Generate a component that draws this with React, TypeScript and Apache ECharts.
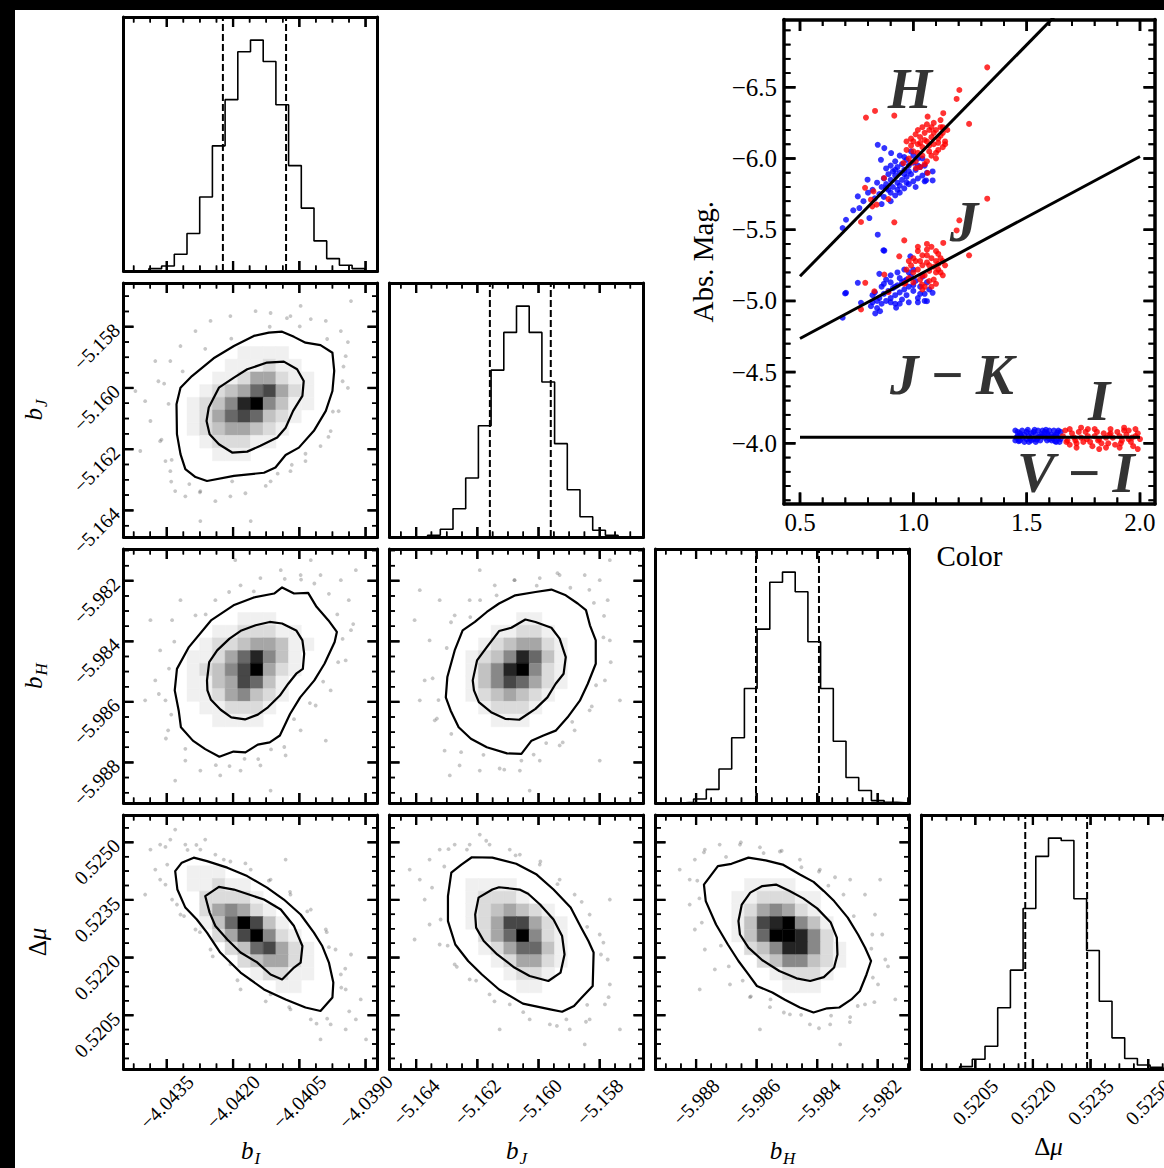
import React, { useEffect, useRef } from "react";
import * as echarts from "echarts";

// ================= DATA =================
// parameter axis ranges (data units)
const bIRange = [-4.04448, -4.03873];
const bJRange = [-5.16487, -5.15657];
const bHRange = [-5.98934, -5.98095];
const dmuRange = [0.5191, 0.52571];

// major tick values
const bITicks = [-4.0435, -4.042, -4.0405, -4.039];
const bJTicks = [-5.164, -5.162, -5.16, -5.158];
const bHTicks = [-5.988, -5.986, -5.984, -5.982];
const dmuTicks = [0.5205, 0.522, 0.5235, 0.525];

// 1D histogram counts (20 bins over each axis range)
const histBI = [0, 0, 7, 15, 50, 112, 221, 374, 512, 655, 690, 626, 497, 315, 188, 90, 37, 17, 7, 0];
const histBJ = [0, 0, 0, 5, 23, 84, 175, 330, 495, 607, 685, 607, 460, 277, 140, 60, 20, 5, 0, 0];
const histBH = [0, 0, 2, 12, 40, 100, 192, 337, 512, 650, 680, 622, 475, 337, 182, 75, 37, 7, 2, 0];
const histDmu = [0, 0, 0, 7, 29, 67, 181, 292, 474, 628, 682, 675, 503, 350, 200, 92, 31, 12, 5, 0];

// 16% / 84% quantiles
const qBI = [-4.04223, -4.0408];
const qBJ = [-5.16159, -5.1596];
const qBH = [-5.98602, -5.98394];
const qDmu = [0.5218, 0.52341];

// 2D density cells (20x20, row 0 = top), level 0 (white) .. 9 (black)
const cellsA = [
  "00000000000000000000", "00000000000000000000", "00000000000000000000", "00000000000000000000",
  "00000000000000000000", "00000000011110000000", "00000000111211000000", "00000001124421100000",
  "00000012346742100000", "00000123589531100000", "00000124676321000000", "00000123443210000000",
  "00000012221100000000", "00000001110000000000", "00000000000000000000", "00000000000000000000",
  "00000000000000000000", "00000000000000000000", "00000000000000000000", "00000000000000000000",
];
const cellsB = [
  "00000000000000000000", "00000000000000000000", "00000000000000000000", "00000000000000000000",
  "00000000000000000000", "00000000011100000000", "00000001122211000000", "00000012234431100000",
  "00000112468531000000", "00000123579421000000", "00000113476310000000", "00000112453210000000",
  "00000011222100000000", "00000001111000000000", "00000000000000000000", "00000000000000000000",
  "00000000000000000000", "00000000000000000000", "00000000000000000000", "00000000000000000000",
];
const cellsC = [
  "00000000000000000000", "00000000000000000000", "00000000000000000000", "00000000000000000000",
  "00000000000000000000", "00000000001100000000", "00000000112210000000", "00000001234421000000",
  "00000012358631000000", "00000013589521000000", "00000013576421000000", "00000012343210000000",
  "00000001222100000000", "00000000111000000000", "00000000000000000000", "00000000000000000000",
  "00000000000000000000", "00000000000000000000", "00000000000000000000", "00000000000000000000",
];
const cellsD = [
  "00000000000000000000", "00000000000000000000", "00000000000000000000", "00000000000000000000",
  "00000111000000000000", "00000112110000000000", "00000022221000000000", "00000024542100000000",
  "00000013697310000000", "00000002479521000000", "00000000236742100000", "00000000023442100000",
  "00000000001221100000", "00000000000011000000", "00000000000000000000", "00000000000000000000",
  "00000000000000000000", "00000000000000000000", "00000000000000000000", "00000000000000000000",
];
const cellsE = [
  "00000000000000000000", "00000000000000000000", "00000000000000000000", "00000000000000000000",
  "00000000000000000000", "00000011110000000000", "00000012221000000000", "00000012343210000000",
  "00000012477421000000", "00000002469521000000", "00000001246631000000", "00000000124421000000",
  "00000000012210000000", "00000000001100000000", "00000000000000000000", "00000000000000000000",
  "00000000000000000000", "00000000000000000000", "00000000000000000000", "00000000000000000000",
];
const cellsF = [
  "00000000000000000000", "00000000000000000000", "00000000000000000000", "00000000000000000000",
  "00000000000000000000", "00000001111000000000", "00000011222110000000", "00000012454210000000",
  "00000013789531000000", "00000013699852000000", "00000002358852100000", "00000000235532100000",
  "00000000012221000000", "00000000001110000000", "00000000000000000000", "00000000000000000000",
  "00000000000000000000", "00000000000000000000", "00000000000000000000", "00000000000000000000",
];

// contours (outer = ~2 sigma, inner = ~1 sigma)
const outerA = [[-4.04328,-5.16053],[-4.04319,-5.15999],[-4.04293,-5.15961],[-4.04244,-5.15903],[-4.04198,-5.15863],[-4.04153,-5.1583],[-4.04119,-5.15819],[-4.04089,-5.15816],[-4.04062,-5.15833],[-4.04036,-5.15852],[-4.04002,-5.1586],[-4.03975,-5.15885],[-4.03971,-5.15944],[-4.03975,-5.1601],[-4.0399,-5.16075],[-4.04017,-5.1614],[-4.04051,-5.16195],[-4.04081,-5.16219],[-4.04104,-5.1626],[-4.0413,-5.16277],[-4.04198,-5.16287],[-4.04259,-5.16304],[-4.04285,-5.16291],[-4.04308,-5.16265],[-4.04319,-5.16216],[-4.04327,-5.16151]];
const innerA = [[-4.0426,-5.16108],[-4.04255,-5.16064],[-4.04232,-5.15999],[-4.04198,-5.15966],[-4.04168,-5.15939],[-4.04123,-5.15917],[-4.04085,-5.15914],[-4.04055,-5.15939],[-4.0404,-5.15977],[-4.04043,-5.16026],[-4.04064,-5.16075],[-4.04081,-5.1613],[-4.041,-5.16162],[-4.04138,-5.16189],[-4.04168,-5.16208],[-4.04202,-5.16211],[-4.04232,-5.16184],[-4.04253,-5.16151]];
const outerB = [[-4.04327,-5.98491],[-4.043,-5.98419],[-4.0425,-5.98331],[-4.04199,-5.98281],[-4.04153,-5.98255],[-4.04107,-5.98242],[-4.04089,-5.98222],[-4.04062,-5.98242],[-4.0403,-5.9824],[-4.04011,-5.98286],[-4.03984,-5.98331],[-4.03965,-5.98369],[-4.0397,-5.98402],[-4.03993,-5.98474],[-4.04016,-5.98529],[-4.04048,-5.98585],[-4.04071,-5.9864],[-4.04094,-5.98711],[-4.04117,-5.98734],[-4.04144,-5.98741],[-4.04172,-5.98767],[-4.04199,-5.98764],[-4.04231,-5.98781],[-4.04263,-5.98756],[-4.04291,-5.98728],[-4.04318,-5.98684],[-4.04323,-5.98629],[-4.04332,-5.98562]];
const innerB = [[-4.04259,-5.98529],[-4.04254,-5.98469],[-4.04236,-5.9843],[-4.04208,-5.98391],[-4.04181,-5.98364],[-4.04149,-5.98347],[-4.04117,-5.98336],[-4.04089,-5.98341],[-4.04057,-5.98364],[-4.04043,-5.98397],[-4.04039,-5.98441],[-4.04042,-5.98491],[-4.04057,-5.98507],[-4.04075,-5.9854],[-4.04094,-5.98579],[-4.04121,-5.98618],[-4.04144,-5.98642],[-4.04173,-5.98658],[-4.04204,-5.98651],[-4.04228,-5.98626],[-4.0425,-5.98593],[-4.04258,-5.98562]];
const outerC = [[-5.16303,-5.98585],[-5.16298,-5.98518],[-5.16274,-5.9843],[-5.16248,-5.98364],[-5.16208,-5.98336],[-5.16169,-5.98303],[-5.16129,-5.98275],[-5.16076,-5.98248],[-5.1601,-5.98237],[-5.15958,-5.98229],[-5.15911,-5.98248],[-5.15872,-5.98275],[-5.15845,-5.98297],[-5.15832,-5.98347],[-5.15813,-5.98397],[-5.15813,-5.98474],[-5.15839,-5.9854],[-5.15865,-5.98596],[-5.15905,-5.98651],[-5.15944,-5.98695],[-5.15984,-5.98711],[-5.16023,-5.98728],[-5.16056,-5.98772],[-5.16103,-5.9877],[-5.16169,-5.9875],[-5.16221,-5.98722],[-5.16261,-5.98684],[-5.16287,-5.98629]];
const innerC = [[-5.16215,-5.98529],[-5.16201,-5.98463],[-5.16169,-5.98419],[-5.16129,-5.98366],[-5.16089,-5.98355],[-5.16043,-5.98328],[-5.1601,-5.98336],[-5.15958,-5.98355],[-5.15931,-5.98391],[-5.15911,-5.98452],[-5.15918,-5.98507],[-5.15944,-5.9854],[-5.15971,-5.98585],[-5.1601,-5.98623],[-5.16063,-5.98659],[-5.16109,-5.98656],[-5.16155,-5.98634],[-5.16195,-5.98601],[-5.16211,-5.98562]];
const outerD = [[-4.04331,0.52425],[-4.04316,0.52447],[-4.04289,0.5246],[-4.04259,0.52451],[-4.04213,0.52434],[-4.04168,0.52412],[-4.04123,0.52382],[-4.04085,0.52351],[-4.04047,0.52312],[-4.04017,0.52265],[-4.03998,0.5223],[-4.03983,0.52187],[-4.03973,0.52135],[-4.03975,0.52096],[-4.04002,0.52061],[-4.04036,0.5207],[-4.04081,0.52091],[-4.0413,0.52117],[-4.04183,0.52161],[-4.04229,0.52213],[-4.04259,0.52265],[-4.04282,0.52299],[-4.04308,0.5233],[-4.04326,0.52377]];
const innerD = [[-4.04263,0.5236],[-4.04232,0.52384],[-4.04198,0.52377],[-4.04164,0.52364],[-4.0413,0.52351],[-4.04092,0.52325],[-4.04062,0.52282],[-4.04043,0.5223],[-4.04047,0.52187],[-4.04062,0.52174],[-4.04089,0.52143],[-4.04115,0.52156],[-4.04145,0.52187],[-4.04183,0.52213],[-4.04213,0.52247],[-4.0424,0.52282],[-4.04253,0.52317]];
const outerE = [[-5.16296,0.52295],[-5.16296,0.5236],[-5.16285,0.52421],[-5.16252,0.52442],[-5.16218,0.52461],[-5.16151,0.5246],[-5.16073,0.52444],[-5.16006,0.52416],[-5.15951,0.52377],[-5.15895,0.5233],[-5.15861,0.52278],[-5.15837,0.52243],[-5.1582,0.52213],[-5.15823,0.52126],[-5.15861,0.52094],[-5.15884,0.52074],[-5.15923,0.52059],[-5.15962,0.52065],[-5.16051,0.5208],[-5.16129,0.52117],[-5.16185,0.52156],[-5.1623,0.52191],[-5.16272,0.52234]];
const innerE = [[-5.16207,0.52312],[-5.16196,0.52356],[-5.16151,0.52377],[-5.16129,0.52383],[-5.16062,0.52377],[-5.16034,0.52366],[-5.15995,0.52338],[-5.15951,0.52299],[-5.15923,0.52256],[-5.15915,0.52208],[-5.15928,0.52161],[-5.15968,0.52139],[-5.16029,0.52152],[-5.16079,0.52174],[-5.16135,0.52208],[-5.16179,0.52243],[-5.16204,0.52278]];
const outerF = [[-5.98774,0.5239],[-5.98728,0.52438],[-5.98683,0.52444],[-5.98627,0.5246],[-5.9857,0.52453],[-5.98514,0.52442],[-5.98457,0.52416],[-5.98412,0.52397],[-5.98378,0.52373],[-5.98344,0.52347],[-5.98299,0.52304],[-5.98265,0.5226],[-5.98242,0.52226],[-5.98222,0.52191],[-5.98237,0.52156],[-5.98259,0.52113],[-5.98287,0.52091],[-5.98327,0.5207],[-5.98367,0.52068],[-5.98412,0.52057],[-5.98457,0.5207],[-5.98508,0.52091],[-5.98548,0.52109],[-5.98599,0.52126],[-5.98627,0.52156],[-5.9866,0.52191],[-5.98695,0.52234],[-5.98734,0.52286],[-5.98768,0.52347]];
const innerF = [[-5.9866,0.52295],[-5.98649,0.52338],[-5.98621,0.52369],[-5.98581,0.52386],[-5.98536,0.5239],[-5.98491,0.52373],[-5.98446,0.52354],[-5.984,0.52328],[-5.98355,0.52291],[-5.98335,0.52252],[-5.98333,0.52208],[-5.98344,0.52174],[-5.98378,0.52149],[-5.98423,0.52139],[-5.98468,0.52146],[-5.98525,0.52165],[-5.98581,0.52193],[-5.98627,0.52226],[-5.98655,0.5226]];

// individual samples visible outside the outer contour
const haloA = [[-4.04387,-5.16108],[-4.04399,-5.16043],[-4.04365,-5.16174],[-4.04369,-5.15978],[-4.04353,-5.16239],[-4.04342,-5.16272],[-4.04331,-5.16337],[-4.04308,-5.16354],[-4.04274,-5.16337],[-4.0424,-5.1637],[-4.04206,-5.16354],[-4.04172,-5.16344],[-4.04342,-5.15912],[-4.04319,-5.15863],[-4.04285,-5.15814],[-4.04251,-5.15781],[-4.04206,-5.15765],[-4.04149,-5.15749],[-4.04115,-5.15755],[-4.0407,-5.15765],[-4.04024,-5.15775],[-4.0399,-5.15781],[-4.03956,-5.15814],[-4.03945,-5.15896],[-4.03952,-5.15978],[-4.03961,-5.16076],[-4.03979,-5.16141],[-4.04002,-5.1619],[-4.04036,-5.16239],[-4.0407,-5.16272],[-4.04115,-5.16305],[-4.0416,-5.16435],[-4.0441,-5.16206],[-4.04376,-5.15912],[-4.04274,-5.16435],[-4.03933,-5.15716],[-4.04047,-5.15732],[-4.04421,-5.1601],
  [-4.04346,-5.16052],[-4.04314,-5.15946],[-4.04204,-5.15839],[-4.04117,-5.158],[-4.04049,-5.15799],[-4.03987,-5.1584],[-4.0395,-5.1593],[-4.03974,-5.16077],[-4.04036,-5.16215],[-4.04099,-5.1628],[-4.04202,-5.16305],[-4.04299,-5.16314],[-4.04339,-5.16235],[-4.04356,-5.15986],[-4.04263,-5.15872],[-4.04078,-5.15772],[-4.0394,-5.1585],[-4.0394,-5.16],[-4.03984,-5.1616],[-4.04067,-5.16251],[-4.04126,-5.1632],[-4.04275,-5.16341],[-4.0434,-5.16306],[-4.04362,-5.16169]];
const haloB = [[-4.04365,-5.9843],[-4.04353,-5.98595],[-4.04347,-5.98694],[-4.04338,-5.9833],[-4.04308,-5.98794],[-4.04274,-5.98827],[-4.04229,-5.98843],[-4.04183,-5.98827],[-4.04138,-5.9881],[-4.04081,-5.98777],[-4.04047,-5.98694],[-4.04013,-5.98612],[-4.03979,-5.98562],[-4.03945,-5.98463],[-4.03933,-5.98363],[-4.03938,-5.98264],[-4.03956,-5.98198],[-4.04002,-5.98181],[-4.04047,-5.98181],[-4.04092,-5.98165],[-4.04138,-5.98191],[-4.04183,-5.98215],[-4.0424,-5.98264],[-4.04285,-5.98314],[-4.04319,-5.98264],[-4.04376,-5.98529],[-4.04387,-5.9833],[-4.04115,-5.98893],[-4.03922,-5.98165],[-4.04195,-5.98132],[-4.04331,-5.9886],[-4.0399,-5.98728],[-4.04399,-5.98595],[-4.04024,-5.98132],
  [-4.04345,-5.9849],[-4.04262,-5.98311],[-4.04153,-5.98235],[-4.04083,-5.98194],[-4.04016,-5.98209],[-4.03964,-5.98311],[-4.03952,-5.98392],[-4.03996,-5.98533],[-4.04062,-5.98657],[-4.04114,-5.98757],[-4.04174,-5.98788],[-4.04239,-5.98809],[-4.04308,-5.98755],[-4.0434,-5.98642],[-4.04333,-5.98401],[-4.04209,-5.98237],[-4.04046,-5.98196],[-4.03983,-5.98243],[-4.03928,-5.98343],[-4.03962,-5.98469],[-4.04026,-5.98604],[-4.04084,-5.98749],[-4.04143,-5.98789],[-4.04208,-5.98812],[-4.04352,-5.98721],[-4.04368,-5.98574]];
const haloC = [[-5.16356,-5.98397],[-5.16372,-5.98529],[-5.16339,-5.98661],[-5.16323,-5.98264],[-5.16307,-5.98761],[-5.16258,-5.9881],[-5.16192,-5.98827],[-5.16127,-5.9882],[-5.16061,-5.98827],[-5.15996,-5.98794],[-5.15931,-5.98744],[-5.15882,-5.98694],[-5.15833,-5.98628],[-5.15783,-5.98529],[-5.15767,-5.98397],[-5.15774,-5.98264],[-5.158,-5.98198],[-5.15849,-5.98181],[-5.15931,-5.98181],[-5.15996,-5.98191],[-5.16078,-5.98198],[-5.16143,-5.98215],[-5.16225,-5.98264],[-5.16274,-5.98314],[-5.16388,-5.98595],[-5.16405,-5.9833],[-5.15767,-5.98132],[-5.16029,-5.98893],[-5.1629,-5.98843],[-5.15734,-5.98595],[-5.16192,-5.98165],[-5.158,-5.98794],[-5.16388,-5.98231],
  [-5.16327,-5.98594],[-5.163,-5.98422],[-5.16223,-5.9832],[-5.16137,-5.98248],[-5.16006,-5.98216],[-5.15896,-5.98223],[-5.15819,-5.98273],[-5.15788,-5.98387],[-5.15812,-5.98545],[-5.1589,-5.98666],[-5.15975,-5.98736],[-5.16056,-5.98794],[-5.1618,-5.98775],[-5.16285,-5.98706],[-5.16346,-5.98522],[-5.16286,-5.98337],[-5.16191,-5.98264],[-5.16079,-5.98198],[-5.15938,-5.98175],[-5.15834,-5.9823],[-5.15786,-5.98316],[-5.15764,-5.98469],[-5.15826,-5.98615],[-5.15921,-5.98734],[-5.16016,-5.98774],[-5.16112,-5.98824],[-5.16253,-5.98766],[-5.16332,-5.98655]];
const haloD = [[-4.04387,0.52481],[-4.04365,0.52494],[-4.04342,0.52507],[-4.04308,0.52494],[-4.04274,0.52481],[-4.04376,0.52429],[-4.04353,0.5239],[-4.04338,0.52351],[-4.04319,0.52312],[-4.04285,0.52273],[-4.04251,0.52221],[-4.04206,0.52182],[-4.0416,0.52143],[-4.04115,0.52104],[-4.0407,0.52065],[-4.04024,0.52039],[-4.03979,0.52026],[-4.03945,0.52013],[-4.03922,0.52039],[-4.03911,0.52091],[-4.03945,0.52117],[-4.03956,0.52156],[-4.03968,0.52221],[-4.0399,0.52273],[-4.04024,0.52325],[-4.0407,0.52364],[-4.04115,0.52403],[-4.0416,0.52429],[-4.04206,0.5245],[-4.0424,0.52468],[-4.04263,0.52507],[-4.04399,0.52364],[-4.03899,0.51987],[-4.04002,0.51987],[-4.04331,0.52533],[-4.04081,0.52455],[-4.04183,0.52117],[-4.03933,0.52208],
  [-4.04349,0.52442],[-4.04303,0.5248],[-4.04221,0.52455],[-4.04119,0.524],[-4.04032,0.5232],[-4.03983,0.52227],[-4.03955,0.52122],[-4.03987,0.52041],[-4.04073,0.52071],[-4.0419,0.52141],[-4.04275,0.52266],[-4.04327,0.52338],[-4.04353,0.52488],[-4.04283,0.52493],[-4.04172,0.52445],[-4.04071,0.52371],[-4.03988,0.52266],[-4.03946,0.52171],[-4.03937,0.5206],[-4.04011,0.52028],[-4.04126,0.52086],[-4.04246,0.52203],[-4.04311,0.52308],[-4.04365,0.52403]];
const haloE = [[-5.16388,0.52403],[-5.16356,0.52455],[-5.16323,0.52481],[-5.16274,0.52494],[-5.16225,0.52494],[-5.1616,0.52494],[-5.16094,0.52481],[-5.16372,0.52351],[-5.16356,0.52286],[-5.16323,0.52234],[-5.16274,0.52182],[-5.16225,0.52143],[-5.1616,0.52104],[-5.16094,0.52078],[-5.16029,0.52039],[-5.15963,0.52026],[-5.15898,0.52013],[-5.15833,0.52039],[-5.15783,0.52078],[-5.15767,0.5213],[-5.15774,0.52195],[-5.158,0.5226],[-5.15833,0.52312],[-5.15882,0.52364],[-5.15931,0.52403],[-5.15996,0.52442],[-5.16061,0.52468],[-5.16421,0.52429],[-5.15734,0.52013],[-5.15849,0.51974],[-5.16405,0.52247],[-5.16127,0.52013],[-5.15767,0.52351],[-5.16192,0.5252],
  [-5.1632,0.52299],[-5.16308,0.52437],[-5.16234,0.52481],[-5.16075,0.52466],[-5.15938,0.52391],[-5.15841,0.5228],[-5.15796,0.52208],[-5.15841,0.52077],[-5.15909,0.52039],[-5.1605,0.52058],[-5.16204,0.5214],[-5.16297,0.52231],[-5.16348,0.52382],[-5.16294,0.52482],[-5.16171,0.52504],[-5.15994,0.5245],[-5.15859,0.52345],[-5.15788,0.52239],[-5.15771,0.52097],[-5.15845,0.52033],[-5.1594,0.52022],[-5.16144,0.52086],[-5.16267,0.52176]];
const haloF = [[-5.98821,0.52403],[-5.98804,0.52455],[-5.98771,0.52481],[-5.98722,0.52494],[-5.98655,0.52494],[-5.98589,0.52487],[-5.98523,0.52476],[-5.98457,0.52455],[-5.98391,0.52429],[-5.98821,0.52338],[-5.98804,0.52273],[-5.98771,0.52221],[-5.98738,0.52169],[-5.98688,0.5213],[-5.98622,0.52097],[-5.98556,0.52071],[-5.9849,0.52052],[-5.98424,0.52026],[-5.98357,0.52026],[-5.98291,0.52045],[-5.98242,0.52078],[-5.98199,0.5213],[-5.98175,0.52195],[-5.98185,0.5226],[-5.98209,0.52312],[-5.98242,0.52364],[-5.98291,0.52403],[-5.98341,0.52409],[-5.98854,0.52429],[-5.98142,0.52091],[-5.98324,0.51974],[-5.98589,0.52013],[-5.98788,0.52117],[-5.98192,0.52403],
  [-5.98796,0.524],[-5.98701,0.52462],[-5.98577,0.52472],[-5.98452,0.52435],[-5.98363,0.52387],[-5.98279,0.52308],[-5.98221,0.52223],[-5.98216,0.52148],[-5.98266,0.52074],[-5.98354,0.52049],[-5.98453,0.52051],[-5.98554,0.52091],[-5.98646,0.5214],[-5.98718,0.52231],[-5.98789,0.52354],[-5.98774,0.52474],[-5.98652,0.525],[-5.98517,0.52478],[-5.98394,0.52424],[-5.98313,0.52364],[-5.98218,0.5226],[-5.98166,0.52177],[-5.98211,0.52084],[-5.98292,0.52032],[-5.98394,0.52016],[-5.9851,0.52057],[-5.98619,0.52099],[-5.98692,0.52177],[-5.98781,0.52291]];

// ---- Colour–magnitude panel
const colorTicks = [0.5, 1.0, 1.5, 2.0];
const magTicks = [-6.5, -6.0, -5.5, -5.0, -4.5, -4.0];
const colorRange = [0.4294, 2.0662];
const magRange = [-6.976, -3.574];

const hBlue = [[0.86,-5.8],[0.88,-5.82],[0.9,-5.85],[0.92,-5.88],[0.94,-5.9],[0.96,-5.92],[0.98,-5.95],[1.0,-5.97],[1.02,-6.0],[0.89,-5.78],[0.91,-5.8],[0.93,-5.83],[0.95,-5.85],[0.97,-5.87],[0.99,-5.89],[1.01,-5.92],[1.03,-5.94],[0.87,-5.86],[0.89,-5.89],[0.91,-5.91],[0.93,-5.94],[0.95,-5.96],[0.97,-5.99],[0.85,-5.75],[0.92,-5.74],[0.96,-5.79],[1.0,-5.84],[1.04,-5.88],[1.06,-5.9],[0.84,-5.83],[0.88,-5.93],[0.94,-6.02],[0.99,-6.05],[1.05,-5.95],[0.82,-5.78],[0.9,-5.7],[0.98,-5.82],[1.02,-5.86],[0.9,-5.95],[0.92,-5.98],[0.96,-6.01],[1.0,-6.02],[1.04,-6.0],[0.98,-5.91],[1.02,-5.95],[0.94,-5.81],[0.9,-5.76],[0.87,-5.73],[0.93,-5.78],[0.97,-5.83],[1.01,-5.8],[1.05,-5.84],[0.88,-5.79],[0.96,-5.89],[0.92,-5.92],[0.688,-5.512],[0.703,-5.57],[0.762,-5.652],[0.798,-5.851],[0.843,-6.096],[0.872,-6.073],[0.902,-6.038],[0.843,-5.465],[1.085,-5.909],[1.085,-5.846],[1.056,-5.846],[0.806,-5.582],[0.755,-5.734],[0.857,-5.991],[0.735,-5.636],[0.868,-5.355],[0.78,-5.7],[0.8,-5.76],[0.83,-5.72],[0.86,-5.68],[0.94,-5.76]];
const hRed = [[1.0,-6.05],[1.02,-6.1],[1.04,-6.08],[1.06,-6.12],[1.08,-6.15],[1.05,-6.18],[1.1,-6.2],[1.12,-6.22],[1.03,-6.15],[1.07,-6.05],[1.09,-6.1],[1.11,-6.14],[0.98,-6.0],[1.01,-5.98],[1.04,-6.02],[1.13,-6.18],[1.0,-6.12],[1.06,-6.24],[1.09,-6.25],[1.14,-6.12],[0.97,-6.06],[0.99,-6.14],[1.02,-6.2],[1.05,-5.96],[1.08,-6.02],[1.11,-6.06],[1.03,-5.94],[0.99,-5.97],[1.07,-6.2],[1.12,-6.27],[1.15,-6.2],[1.1,-6.0],[0.97,-6.12],[1.13,-6.08],[1.04,-6.22],[1.08,-6.22],[1.12,-6.16],[1.14,-6.1],[1.1,-6.04],[1.06,-5.98],[1.02,-6.04],[0.99,-6.09],[1.01,-6.17],[1.05,-6.13],[1.09,-6.18],[1.13,-6.22],[1.07,-6.09],[1.11,-6.11],[1.03,-6.11],[0.791,-6.287],[0.831,-6.334],[0.916,-6.301],[1.063,-6.294],[1.132,-6.318],[1.191,-6.418],[1.203,-6.481],[1.246,-6.243],[1.326,-6.64],[0.787,-5.794],[0.824,-5.769],[0.838,-5.676],[0.819,-5.664],[0.769,-5.554],[0.916,-5.552],[0.89,-5.715],[0.871,-5.863],[0.956,-5.968],[0.813,-5.711],[1.012,-5.933],[1.063,-5.898]];
const jBlue = [[0.85,-5.02],[0.87,-5.05],[0.89,-5.07],[0.91,-5.09],[0.93,-5.11],[0.95,-5.13],[0.97,-5.15],[0.99,-5.17],[1.01,-5.14],[0.88,-5.0],[0.9,-5.02],[0.92,-5.04],[0.94,-5.06],[0.96,-5.08],[0.98,-5.1],[1.0,-5.07],[1.03,-5.1],[0.86,-5.1],[0.9,-5.13],[0.94,-5.16],[0.98,-5.2],[0.83,-5.06],[0.82,-4.99],[0.95,-5.01],[1.05,-5.05],[1.06,-5.13],[0.92,-4.98],[0.97,-5.04],[1.02,-5.02],[0.88,-5.15],[0.84,-4.95],[0.93,-5.2],[0.84,-5.0],[0.86,-4.98],[0.9,-4.99],[0.94,-4.98],[0.98,-4.99],[1.02,-4.99],[1.05,-5.0],[1.07,-5.08],[1.04,-5.17],[1.0,-5.22],[0.96,-5.22],[0.9,-5.18],[0.87,-5.12],[0.82,-5.04],[0.92,-5.1],[0.96,-5.14],[1.0,-5.11],[1.03,-5.05],[0.688,-4.882],[0.703,-5.057],[0.755,-5.127],[0.769,-4.987],[0.813,-4.963],[0.832,-4.912],[0.924,-4.952],[0.872,-5.353],[1.085,-5.057],[1.06,-4.998],[0.987,-5.313],[0.85,-5.19],[0.699,-5.052],[0.853,-4.928]];
const jRed = [[1.0,-5.2],[1.02,-5.22],[1.04,-5.25],[1.06,-5.27],[1.08,-5.3],[1.1,-5.28],[1.03,-5.15],[1.05,-5.18],[1.07,-5.21],[1.09,-5.24],[1.11,-5.22],[1.12,-5.3],[0.98,-5.16],[1.0,-5.13],[1.04,-5.32],[1.06,-5.36],[1.08,-5.38],[1.01,-5.28],[0.97,-5.22],[1.13,-5.18],[1.05,-5.1],[1.09,-5.15],[1.11,-5.33],[0.99,-5.25],[1.02,-5.35],[1.07,-5.14],[0.96,-5.12],[1.1,-5.12],[1.04,-5.08],[1.14,-5.25],[1.02,-5.38],[1.06,-5.4],[1.1,-5.35],[1.13,-5.28],[1.12,-5.2],[1.08,-5.1],[1.04,-5.18],[1.0,-5.3],[0.98,-5.28],[1.06,-5.32],[1.1,-5.2],[1.03,-5.28],[1.07,-5.25],[1.11,-5.26],[1.326,-5.718],[1.203,-5.566],[1.191,-5.495],[1.246,-5.32],[0.96,-5.425],[0.938,-5.313],[1.132,-5.407],[0.769,-4.94],[0.788,-5.127],[0.828,-5.068],[0.872,-5.185],[0.89,-5.061],[0.965,-5.127],[1.038,-5.115]];
const iBlue = [[1.45,-4.09],[1.47,-4.02],[1.49,-4.06],[1.51,-4.01],[1.53,-4.08],[1.55,-4.04],[1.57,-4.09],[1.59,-4.02],[1.61,-4.06],[1.63,-4.01],[1.65,-4.08],[1.46,-4.05],[1.48,-4.09],[1.5,-4.03],[1.52,-4.07],[1.54,-4.01],[1.56,-4.05],[1.58,-4.08],[1.6,-4.03],[1.62,-4.09],[1.64,-4.04],[1.45,-4.02],[1.47,-4.07],[1.49,-4.01],[1.51,-4.05],[1.53,-4.03],[1.55,-4.09],[1.57,-4.05],[1.59,-4.07],[1.61,-4.02],[1.63,-4.06],[1.65,-4.03],[1.46,-4.08],[1.48,-4.04],[1.5,-4.08],[1.52,-4.02],[1.54,-4.06],[1.56,-4.02],[1.58,-4.04],[1.6,-4.09],[1.62,-4.05],[1.64,-4.09],[1.645,-4.01],[1.455,-4.04],[1.535,-4.095],[1.585,-4.095],[1.505,-4.095],[1.625,-4.015],[1.465,-4.015],[1.515,-4.035],[1.565,-4.065],[1.615,-4.035],[1.475,-4.055],[1.545,-4.025],[1.595,-4.055],[1.635,-4.075]];
const iRed = [[1.66,-4.05],[1.68,-4.02],[1.7,-4.07],[1.72,-4.0],[1.74,-4.04],[1.76,-4.08],[1.78,-4.01],[1.8,-4.05],[1.82,-4.03],[1.84,-4.07],[1.86,-4.0],[1.88,-4.04],[1.9,-4.08],[1.92,-4.02],[1.94,-4.06],[1.96,-4.01],[1.98,-4.05],[2.0,-4.03],[1.67,-4.09],[1.69,-3.99],[1.71,-4.04],[1.73,-4.08],[1.75,-4.01],[1.77,-4.05],[1.79,-3.98],[1.81,-4.08],[1.83,-4.0],[1.85,-4.04],[1.87,-4.07],[1.89,-3.99],[1.91,-4.05],[1.93,-4.09],[1.95,-4.03],[1.97,-3.98],[1.99,-4.07],[1.675,-4.01],[1.715,-4.02],[1.765,-4.03],[1.815,-4.02],[1.865,-4.06],[1.915,-4.0],[1.965,-4.04],[1.69,-4.1],[1.74,-4.11],[1.8,-4.1],[1.87,-4.1],[1.93,-4.11],[1.98,-4.1],[1.72,-3.97],[1.82,-3.96],[1.91,-3.97],[1.99,-3.96],[1.77,-4.1],[1.85,-3.97],[1.95,-4.09]];

// fitted relations: magnitude at colour 0.5 and slope
const fitLines = [
  { band: "H", at05: -5.173, slope: -1.625 },
  { band: "J", at05: -4.736, slope: -0.852 },
  { band: "I", at05: -4.043, slope: 0 },
];
const fitColorSpan = [0.5, 2.0];

// annotations (data coordinates)
const annotations = [
  { text: "H", x: 0.985, y: -6.49 },
  { text: "J", x: 1.224, y: -5.556 },
  { text: "J\u2009\u2212\u2009K", x: 1.17, y: -4.484 },
  { text: "I", x: 1.819, y: -4.301 },
  { text: "V\u2009\u2212\u2009I", x: 1.717, y: -3.797 },
];

// ================= LAYOUT / STYLE =================
const FONT = "'Liberation Serif', 'Times New Roman', Times, serif";
const PANEL = 254;
const COLS = [123.5, 389.5, 655.5, 921.5];
const ROWS = [17, 283, 549, 815];
const TR = { left: 784, top: 19.5, width: 371, height: 484.5 };

const nameRich = {
  it: { fontFamily: FONT, fontStyle: "italic", fontSize: 25, color: "#000" },
  up: { fontFamily: FONT, fontSize: 25, color: "#000" },
  sub: { fontFamily: FONT, fontStyle: "italic", fontSize: 17, color: "#000", verticalAlign: "bottom", padding: [16, 0, 0, 1] },
};

const params: any = {
  bI: { range: bIRange, ticks: bITicks, minor: 0.000375, dec: 4, name: "{it|b}{sub|I}" },
  bJ: { range: bJRange, ticks: bJTicks, minor: 0.0005, dec: 3, name: "{it|b}{sub|J}" },
  bH: { range: bHRange, ticks: bHTicks, minor: 0.0005, dec: 3, name: "{it|b}{sub|H}" },
  dmu: { range: dmuRange, ticks: dmuTicks, minor: 0.000375, dec: 4, name: "{up|\u0394}{it|\u03bc}" },
};
const ORDER = ["bI", "bJ", "bH", "dmu"];
const HISTS: any = {
  bI: { counts: histBI, q: qBI },
  bJ: { counts: histBJ, q: qBJ },
  bH: { counts: histBH, q: qBH },
  dmu: { counts: histDmu, q: qDmu },
};
const PAIRS: any[] = [
  { x: "bI", y: "bJ", cells: cellsA, outer: outerA, inner: innerA, halo: haloA },
  { x: "bI", y: "bH", cells: cellsB, outer: outerB, inner: innerB, halo: haloB },
  { x: "bJ", y: "bH", cells: cellsC, outer: outerC, inner: innerC, halo: haloC },
  { x: "bI", y: "dmu", cells: cellsD, outer: outerD, inner: innerD, halo: haloD },
  { x: "bJ", y: "dmu", cells: cellsE, outer: outerE, inner: innerE, halo: haloE },
  { x: "bH", y: "dmu", cells: cellsF, outer: outerF, inner: innerF, halo: haloF },
];

function fmt(dec: number) {
  return (v: number) => Number(v).toFixed(dec).replace("-", "\u2212");
}

function minorTicks(majors: number[], step: number, range: number[]) {
  const base = majors[0];
  const out: number[] = [];
  const k0 = Math.ceil((range[0] - base) / step - 1e-6);
  const k1 = Math.floor((range[1] - base) / step + 1e-6);
  for (let k = k0; k <= k1; k++) {
    const v = base + k * step;
    if (majors.some((m) => Math.abs(m - v) < step * 1e-3)) continue;
    out.push(Number(v.toFixed(9)));
  }
  return out;
}

function mkAxis(gi: number, pos: string, range: number[], lineW: number, label: any, name: any, inverse: boolean) {
  const ax: any = {
    type: "value",
    gridIndex: gi,
    position: pos,
    min: range[0],
    max: range[1],
    inverse: !!inverse,
    axisLine: { show: true, onZero: false, lineStyle: { color: "#000", width: lineW } },
    axisTick: { show: false },
    axisLabel: label || { show: false },
    splitLine: { show: false },
    minorTick: { show: false },
    minorSplitLine: { show: false },
    axisPointer: { show: false },
  };
  if (name) Object.assign(ax, name);
  return ax;
}

function buildOption() {
  const grid: any[] = [];
  const xAxis: any[] = [];
  const yAxis: any[] = [];
  const series: any[] = [];
  const tickJobs: any[] = [];

  const addPanel = (left: number, top: number, w: number, h: number, cfg: any) => {
    const gi = grid.length;
    grid.push({ left, top, width: w, height: h, containLabel: false, outerBoundsMode: "none" });
    const xi = xAxis.length;
    const yi = yAxis.length;
    xAxis.push(mkAxis(gi, "bottom", cfg.xr, cfg.lineW, cfg.xLabel, cfg.xName, false));
    xAxis.push(mkAxis(gi, "top", cfg.xr, cfg.lineW, null, null, false));
    yAxis.push(mkAxis(gi, "left", cfg.yr, cfg.lineW, cfg.yLabel, cfg.yName, cfg.yInv));
    yAxis.push(mkAxis(gi, "right", cfg.yr, cfg.lineW, null, null, cfg.yInv));
    tickJobs.push({ xi, yi, w, h, cfg });
    return { xi, yi };
  };

  // inward tick marks on all four sides, appended after all data series
  const buildTicks = (job: any) => {
    const { xi, yi, w, h, cfg } = job;
    const xr = cfg.xr, yr = cfg.yr, T = cfg.tick;
    const yBot = cfg.yInv ? yr[1] : yr[0];
    const yTop = cfg.yInv ? yr[0] : yr[1];
    const dir = yTop > yBot ? 1 : -1;
    const tickData: number[][] = [];
    cfg.xMaj.forEach((v: number) => { tickData.push([v, yBot, 0, 1]); tickData.push([v, yTop, 1, 1]); });
    cfg.xMin.forEach((v: number) => { tickData.push([v, yBot, 0, 0]); tickData.push([v, yTop, 1, 0]); });
    cfg.yMaj.forEach((v: number) => { tickData.push([xr[0], v, 2, 1]); tickData.push([xr[1], v, 3, 1]); });
    cfg.yMin.forEach((v: number) => { tickData.push([xr[0], v, 2, 0]); tickData.push([xr[1], v, 3, 0]); });
    series.push({
      type: "custom", xAxisIndex: xi, yAxisIndex: yi, data: tickData, encode: { x: 0, y: 1 }, silent: true, z: 8,
      renderItem: (_p: any, api: any) => {
        const p = api.coord([api.value(0), api.value(1)]);
        const side = api.value(2);
        const major = api.value(3) === 1;
        const len = major ? T.majLen : T.minLen;
        const tw = major ? T.majW : T.minW;
        let shape;
        if (side === 0) shape = { x: p[0] - tw / 2, y: p[1] - len, width: tw, height: len };
        else if (side === 1) shape = { x: p[0] - tw / 2, y: p[1], width: tw, height: len };
        else if (side === 2) shape = { x: p[0], y: p[1] - tw / 2, width: len, height: tw };
        else shape = { x: p[0] - len, y: p[1] - tw / 2, width: len, height: tw };
        return { type: "rect", shape, style: { fill: "#000" } };
      },
    });
    [true, false].forEach((major) => {
      const len = major ? T.majLen : T.minLen;
      const lx = (len * Math.abs(xr[1] - xr[0])) / w;
      const ly = (len * Math.abs(yr[1] - yr[0])) / h;
      const add = (pts: number[][]) =>
        series.push({
          type: "line", xAxisIndex: xi, yAxisIndex: yi, data: pts, symbol: "none", silent: true, z: 8,
          lineStyle: { color: "#000", width: major ? T.majW : T.minW },
        });
      (major ? cfg.xMaj : cfg.xMin).forEach((v: number) => {
        add([[v, yBot], [v, yBot + dir * ly]]);
        add([[v, yTop], [v, yTop - dir * ly]]);
      });
      (major ? cfg.yMaj : cfg.yMin).forEach((v: number) => {
        add([[xr[0], v], [xr[0] + lx, v]]);
        add([[xr[1], v], [xr[1] - lx, v]]);
      });
    });
  };

  const cornerTick = { majLen: 10, minLen: 5.5, majW: 2.2, minW: 1.5 };
  const xLabelCfg = (p: any) => ({
    show: true, customValues: p.ticks, rotate: 45, align: "center", verticalAlign: "middle", margin: 33,
    fontFamily: FONT, fontSize: 20, color: "#000", formatter: fmt(p.dec),
  });
  const yLabelCfg = (p: any) => ({
    show: true, customValues: p.ticks, rotate: 45, margin: 7,
    fontFamily: FONT, fontSize: 20, color: "#000", formatter: fmt(p.dec),
  });
  const xNameCfg = (p: any) => ({
    name: p.name, nameLocation: "middle", nameGap: 65, nameMoveOverlap: false,
    nameTextStyle: { rich: nameRich, fontFamily: FONT, fontSize: 25, color: "#000" },
  });
  const yNameCfg = (p: any) => ({
    name: p.name, nameLocation: "middle", nameGap: 74, nameRotate: 90, nameMoveOverlap: false,
    nameTextStyle: { rich: nameRich, fontFamily: FONT, fontSize: 25, color: "#000" },
  });

  // ---- diagonal histograms
  ORDER.forEach((key, i) => {
    const p = params[key];
    const h = HISTS[key];
    const ymax = 1.1 * Math.max(...h.counts);
    const isLast = i === ORDER.length - 1;
    const { xi, yi } = addPanel(COLS[i], ROWS[i], PANEL, PANEL, {
      xr: p.range, yr: [0, ymax],
      xMaj: p.ticks, xMin: minorTicks(p.ticks, p.minor, p.range), yMaj: [], yMin: [],
      tick: cornerTick, lineW: 3,
      xLabel: isLast ? xLabelCfg(p) : null, xName: isLast ? xNameCfg(p) : null,
    });
    const n = h.counts.length;
    const w = (p.range[1] - p.range[0]) / n;
    const pts: number[][] = [[p.range[0], 0]];
    h.counts.forEach((c: number, k: number) => {
      pts.push([p.range[0] + k * w, c]);
      pts.push([p.range[0] + (k + 1) * w, c]);
    });
    pts.push([p.range[1], 0]);
    series.push({
      type: "line", xAxisIndex: xi, yAxisIndex: yi, data: pts, symbol: "none", silent: true, z: 3,
      lineStyle: { color: "#000", width: 1.6 },
    });
    h.q.forEach((qv: number) => {
      series.push({
        type: "line", xAxisIndex: xi, yAxisIndex: yi, data: [[qv, 0], [qv, ymax]], symbol: "none", silent: true, z: 4,
        lineStyle: { color: "#000", width: 2, type: [7, 3] },
      });
    });
  });

  // ---- 2D panels
  let pairIdx = 0;
  for (let r = 1; r < 4; r++) {
    for (let c = 0; c < r; c++) {
      const pr = PAIRS[pairIdx++];
      const px = params[pr.x];
      const py = params[pr.y];
      const { xi, yi } = addPanel(COLS[c], ROWS[r], PANEL, PANEL, {
        xr: px.range, yr: py.range,
        xMaj: px.ticks, xMin: minorTicks(px.ticks, px.minor, px.range),
        yMaj: py.ticks, yMin: minorTicks(py.ticks, py.minor, py.range),
        tick: cornerTick, lineW: 3,
        xLabel: r === 3 ? xLabelCfg(px) : null, xName: r === 3 ? xNameCfg(px) : null,
        yLabel: c === 0 ? yLabelCfg(py) : null, yName: c === 0 ? yNameCfg(py) : null,
      });
      // samples
      series.push({
        type: "scatter", xAxisIndex: xi, yAxisIndex: yi, data: pr.halo, symbolSize: 3.8, silent: true, z: 1,
        itemStyle: { color: "rgba(60,60,60,0.36)" },
      });
      const outer = pr.outer;
      const inner = pr.inner;
      // white fill inside the outer contour
      series.push({
        type: "custom", xAxisIndex: xi, yAxisIndex: yi, data: [outer[0]], encode: { x: 0, y: 1 }, silent: true, z: 2,
        renderItem: (_p: any, api: any) => ({
          type: "polygon",
          shape: { points: outer.map((q: number[]) => api.coord(q)) },
          style: { fill: "#fff", stroke: "#fff", lineWidth: 1 },
        }),
      });
      // density cells
      const w = (px.range[1] - px.range[0]) / 20;
      const hh = (py.range[1] - py.range[0]) / 20;
      const cells: number[][] = [];
      pr.cells.forEach((row: string, ri: number) => {
        for (let ci = 0; ci < row.length; ci++) {
          const lev = Number(row[ci]);
          if (lev > 0) {
            cells.push([
              px.range[0] + ci * w, py.range[1] - (ri + 1) * hh,
              px.range[0] + (ci + 1) * w, py.range[1] - ri * hh, lev,
            ]);
          }
        }
      });
      series.push({
        type: "custom", xAxisIndex: xi, yAxisIndex: yi, data: cells, encode: { x: [0, 2], y: [1, 3] }, silent: true, z: 3,
        renderItem: (_p: any, api: any) => {
          const a = api.coord([api.value(0), api.value(3)]);
          const b = api.coord([api.value(2), api.value(1)]);
          const alpha = Math.pow(api.value(4) / 9, 1.3);
          const g = Math.round(255 * (1 - alpha));
          const col = `rgb(${g},${g},${g})`;
          return {
            type: "rect",
            shape: { x: a[0], y: a[1], width: b[0] - a[0], height: b[1] - a[1] },
            style: { fill: col, stroke: col, lineWidth: 0.5 },
          };
        },
      });
      // contour lines
      [outer, inner].forEach((ring: number[][]) => {
        series.push({
          type: "custom", xAxisIndex: xi, yAxisIndex: yi, data: [ring[0]], encode: { x: 0, y: 1 }, silent: true, z: 4,
          renderItem: (_p: any, api: any) => ({
            type: "polygon",
            shape: { points: ring.map((q: number[]) => api.coord(q)) },
            style: { fill: "none", stroke: "#000", lineWidth: 2.2, lineJoin: "round" },
          }),
        });
      });
    }
  }

  // ---- Colour–magnitude panel
  const { xi: txi, yi: tyi } = addPanel(TR.left, TR.top, TR.width, TR.height, {
    xr: colorRange, yr: magRange, yInv: true,
    xMaj: colorTicks, xMin: minorTicks(colorTicks, 0.1, colorRange),
    yMaj: magTicks, yMin: minorTicks(magTicks, 0.1, magRange),
    tick: { majLen: 11.5, minLen: 6.5, majW: 2.5, minW: 1.8 }, lineW: 3.5,
    xLabel: { show: true, customValues: colorTicks, margin: 6, fontFamily: FONT, fontSize: 25, color: "#000", formatter: fmt(1) },
    yLabel: { show: true, customValues: magTicks, margin: 7, fontFamily: FONT, fontSize: 25, color: "#000", formatter: fmt(1) },
    xName: { name: "Color", nameLocation: "middle", nameGap: 37, nameMoveOverlap: false, nameTextStyle: { fontFamily: FONT, fontSize: 29, color: "#000" } },
    yName: { name: "Abs. Mag.", nameLocation: "middle", nameGap: 67, nameRotate: 90, nameMoveOverlap: false, nameTextStyle: { fontFamily: FONT, fontSize: 29, color: "#000" } },
  });
  const sc = (data: number[][], color: string, z: number) => ({
    type: "scatter", xAxisIndex: txi, yAxisIndex: tyi, data, symbolSize: 6, silent: true, z,
    itemStyle: { color },
  });
  series.push(sc(hBlue, "#0000ff", 2), sc(jBlue, "#0000ff", 2), sc(iBlue, "#0000ff", 2));
  series.push(sc(hRed, "#ff0000", 3), sc(jRed, "#ff0000", 3), sc(iRed, "#ff0000", 3));
  fitLines.forEach((f) => {
    series.push({
      type: "line", xAxisIndex: txi, yAxisIndex: tyi, symbol: "none", silent: true, z: 4, clip: true,
      data: fitColorSpan.map((x) => [x, f.at05 + f.slope * (x - 0.5)]),
      lineStyle: { color: "#000", width: 3 },
    });
  });
  series.push({
    type: "scatter", xAxisIndex: txi, yAxisIndex: tyi, symbolSize: 1, silent: true, z: 7,
    itemStyle: { color: "rgba(0,0,0,0)" },
    data: annotations.map((a) => ({ value: [a.x, a.y], name: a.text })),
    label: {
      show: true, position: "inside", formatter: (p: any) => p.name,
      fontFamily: FONT, fontStyle: "italic", fontWeight: "bold", fontSize: 57, color: "#000",
    },
  });

  // tick marks last, so they sit above everything in their panels
  tickJobs.forEach(buildTicks);

  return {
    animation: false,
    backgroundColor: "#fff",
    grid, xAxis, yAxis, series,
    graphic: [
      { type: "rect", z: 100, shape: { x: 0, y: 0, width: 1164, height: 10 }, style: { fill: "#000" } },
      { type: "rect", z: 100, shape: { x: 0, y: 0, width: 15, height: 1168 }, style: { fill: "#000" } },
    ],
  };
}

export default function App() {
  const ref = useRef<HTMLDivElement>(null);
  useEffect(() => {
    const chart = echarts.init(ref.current!, null, { renderer: "svg" });
    chart.setOption(buildOption() as any);
    return () => chart.dispose();
  }, []);
  return (
    <div
      ref={ref}
      style={{ position: "fixed", left: 0, top: 0, width: 1164, height: 1168, background: "#fff" }}
    />
  );
}
